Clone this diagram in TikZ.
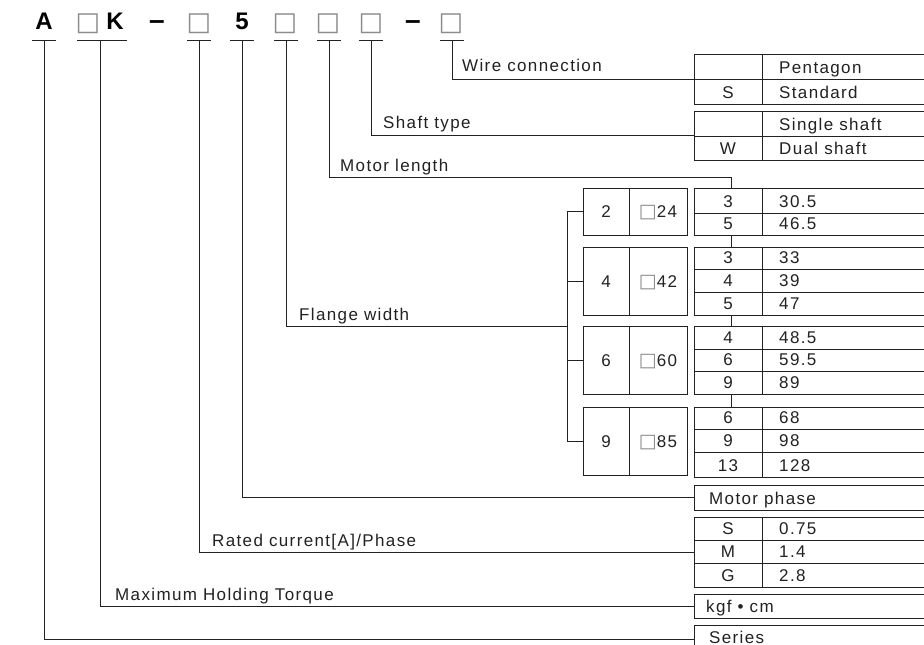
\documentclass[tikz,border=0pt]{standalone}
\usepackage{fontspec}
\setmainfont{Liberation Sans}[LetterSpace=8]
\newfontfamily\hdrfont{Liberation Sans}
\newfontfamily\symfont{DejaVu Sans}
\definecolor{ink}{HTML}{222222}
\definecolor{sq}{HTML}{8C8C8C}
\newcommand{\sqr}{\textcolor{sq}{\symfont\fontsize{19}{20}\selectfont □}}
\newcommand{\tabrow}[5]{% name, top, bottom, col1, col2
  \draw[ln] (694,#2) rectangle (950,#3);
  \draw[ln] (762,#2) -- (762,#3);
  \node[ctr] (#1a) at (728,#3-6) {#4};
  \node[lbl] (#1b) at (779,#3-6) {#5};}
\newcommand{\flrow}[5]{% name, top, bottom, col1, col2
  \node[frame, minimum width=104, minimum height=#3-#2] (#1) at (583,#2) {};
  \draw[ln] (629,#2) -- (629,#3);
  \node[ctr] (#1a) at (606,{(#2+#3)/2+6}) {#4};
  \node[ctr] (#1b) at (658,{(#2+#3)/2+6}) {#5};}
\begin{document}
\begin{tikzpicture}[x=1pt,y=-1pt,
  ln/.style={draw=ink, line width=1pt},
  lbl/.style={anchor=base west, inner sep=0, text=ink, font=\fontsize{17}{20}\selectfont},
  ctr/.style={anchor=base, inner sep=0, text=ink, font=\fontsize{17}{20}\selectfont},
  hdr/.style={anchor=base, inner sep=0, text=black, font=\hdrfont\bfseries\fontsize{24}{28}\selectfont},
  hdash/.style={anchor=base, inner sep=0, text=black, font=\hdrfont\bfseries\fontsize{28}{30}\selectfont},
  hsq/.style={anchor=base, inner sep=0, text=sq, font=\symfont\fontsize{26}{28}\selectfont},
  frame/.style={draw=ink, line width=1pt, anchor=north west, inner sep=0, outer sep=0, minimum width=260}]
\clip (0,0) rectangle (924,645);
\fill[white] (0,0) rectangle (924,645);

% header
\node[hdr] (hA) at (44,29) {A};
\node[hsq] (hS1) at (88,30) {□};
\node[hdr] (hK) at (115,29) {K};
\node[hdash] (hD1) at (157,29) {–};
\node[hsq] (hS2) at (199,30) {□};
\node[hdr] (h5) at (242,29) {5};
\node[hsq] (hS3) at (285,30) {□};
\node[hsq] (hS4) at (328,30) {□};
\node[hsq] (hS5) at (371,30) {□};
\node[hdash] (hD2) at (413,29) {–};
\node[hsq] (hS6) at (451,30) {□};

\coordinate (u1) at (44,40);
\coordinate (u2) at (100,40);
\coordinate (u3) at (199,40);
\coordinate (u4) at (242,40);
\coordinate (u5) at (286,40);
\coordinate (u6) at (329,40);
\coordinate (u7) at (371,40);
\coordinate (u8) at (452,40);
\draw[ln] ([xshift=-12pt]u1) -- ([xshift=12pt]u1);
\draw[ln] ([xshift=-23pt]u2) -- ([xshift=27pt]u2);
\foreach \u in {u3,u4,u5,u6,u7,u8}
  \draw[ln] ([xshift=-12pt]\u) -- ([xshift=12pt]\u);

% right-hand tables
\node[frame, minimum height=50] (t1) at (694,54) {};
\tabrow{t1r1}{54}{79}{}{Pentagon}
\tabrow{t1r2}{79}{104}{S}{Standard}
\node[frame, minimum height=49] (t2) at (694,111) {};
\tabrow{t2r1}{111}{136}{}{Single shaft}
\tabrow{t2r2}{136}{160}{W}{Dual shaft}

\node[frame, minimum height=47] (tA) at (694,188) {};
\tabrow{tAr1}{188}{213}{3}{30.5}
\tabrow{tAr2}{213}{235}{5}{46.5}
\node[frame, minimum height=68] (tB) at (694,247) {};
\tabrow{tBr1}{247}{269}{3}{33}
\tabrow{tBr2}{269}{292}{4}{39}
\tabrow{tBr3}{292}{315}{5}{47}
\node[frame, minimum height=68] (tC) at (694,326) {};
\tabrow{tCr1}{326}{349}{4}{48.5}
\tabrow{tCr2}{349}{371}{6}{59.5}
\tabrow{tCr3}{371}{394}{9}{89}
\node[frame, minimum height=70] (tD) at (694,407) {};
\tabrow{tDr1}{407}{429}{6}{68}
\tabrow{tDr2}{429}{452}{9}{98}
\tabrow{tDr3}{452}{477}{13}{128}

\node[frame, minimum height=25] (mp) at (694,485) {};
\node[lbl] (mpt) at (709,504) {Motor phase};
\node[frame, minimum height=70] (tR) at (694,517) {};
\tabrow{tRr1}{517}{540}{S}{0.75}
\tabrow{tRr2}{540}{563}{M}{1.4}
\tabrow{tRr3}{563}{587}{G}{2.8}
\node[frame, minimum height=24] (kg) at (694,594) {};
\node[lbl] (kgt) at (706,612) {kgf • cm};
\node[frame, minimum height=28] (se) at (694,625) {};
\node[lbl] (set) at (709,643) {Series};

% flange boxes
\flrow{f1}{188}{235}{2}{\sqr24}
\flrow{f2}{247}{315}{4}{\sqr42}
\flrow{f3}{326}{394}{6}{\sqr60}
\flrow{f4}{407}{475}{9}{\sqr85}

% labels
\node[lbl] (lw) at (462,71) {Wire connection};
\node[lbl] (ls) at (383,128) {Shaft type};
\node[lbl] (lm) at (340,171) {Motor length};
\node[lbl] (lf) at (299,320) {Flange width};
\node[lbl] (lr) at (212,546) {Rated current[A]/Phase};
\node[lbl] (lt) at (115,600) {Maximum Holding Torque};

% connectors
\coordinate (mlc) at (731,177);
\coordinate (col) at (731,0);
\coordinate (br) at (567,0);
\coordinate (fw) at (567,326);
\draw[ln] (u8) |- (t1.west);
\draw[ln] (u7) |- (t2.west);
\draw[ln] (u6) |- (mlc) -- (mlc |- tA.north);
\draw[ln] (col |- tA.south) -- (col |- tB.north);
\draw[ln] (col |- tB.south) -- (col |- tC.north);
\draw[ln] (col |- tC.south) -- (col |- tD.north);
\draw[ln] (u5) |- (fw);
\draw[ln] (br |- f1.west) -- (br |- f4.west);
\foreach \f in {f1,f2,f3,f4}
  \draw[ln] (br |- \f.west) -- (\f.west);
\draw[ln] (u4) |- (mp.west);
\draw[ln] (u3) |- (tR.west);
\draw[ln] (u2) |- (kg.west);
\draw[ln] (u1) |- (se.west);
\end{tikzpicture}
\end{document}
